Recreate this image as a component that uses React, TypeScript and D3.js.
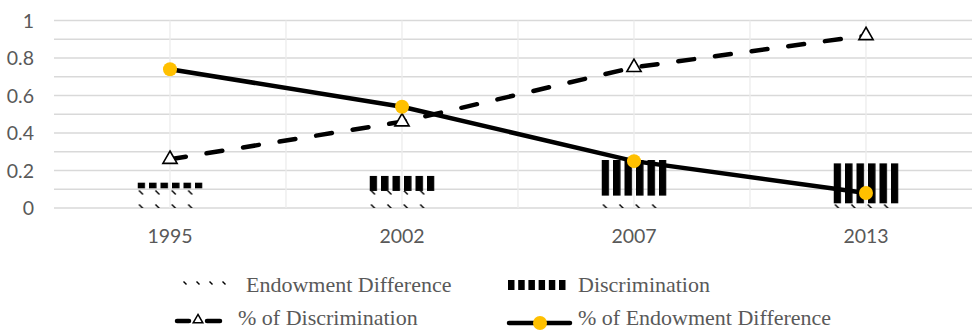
import React from "react";
import * as d3 from "d3";

// Survey years on the category axis
const years = ["1995", "2002", "2007", "2013"];
// Stacked bar components
const endowment = [0.105, 0.091, 0.066, 0.025];
const discrimination = [0.03, 0.08, 0.19, 0.213];
// Shares plotted as lines
const pctDiscrimination = [0.26, 0.46, 0.75, 0.92];
const pctEndowment = [0.74, 0.54, 0.25, 0.08];
// Axis ticks
const yTicks = [0, 0.2, 0.4, 0.6, 0.8, 1];
const yGrid = d3.range(0, 1.0001, 0.1);

const W = 972;
const H = 333;
const GREY = "#595959";
const AXIS_FONT = "Lato, 'Open Sans', sans-serif";

export default function App() {
  const x = d3.scaleBand<string>().domain(years).range([54, 982]).padding(0);
  const y = d3.scaleLinear().domain([0, 1]).range([208, 20.5]);
  const cx = (d: string) => (x(d) as number) + x.bandwidth() / 2;
  const barW = 65;

  const rows = years.map((yr, i) => ({
    year: yr,
    endowment: endowment[i],
    discrimination: discrimination[i],
  }));
  const stacked = d3.stack<any>().keys(["endowment", "discrimination"])(rows);

  const line = d3
    .line<number>()
    .x((_, i) => cx(years[i]))
    .y((v) => y(v));

  const tri = d3.symbol(d3.symbolTriangle, 88)();
  const triSmall = d3.symbol(d3.symbolTriangle, 40)();

  return (
    <svg
      width={W}
      height={H}
      style={{ position: "absolute", left: 0, top: 0, background: "#fff" }}
    >
      <defs>
        {years.map((yr) => {
          const left = cx(yr) - barW / 2;
          return (
            <React.Fragment key={yr}>
              <pattern
                id={`stripes-${yr}`}
                patternUnits="userSpaceOnUse"
                x={left}
                y={0}
                width={11.5}
                height={10}
              >
                <rect x={0} y={0} width={7.5} height={10} fill="#000" />
              </pattern>
              <pattern
                id={`dots-${yr}`}
                patternUnits="userSpaceOnUse"
                x={left + 1}
                y={190}
                width={16.4}
                height={14}
              >
                <line x1={0.5} y1={0.5} x2={4.5} y2={4.5} stroke="#000" strokeWidth={1.4} />
              </pattern>
            </React.Fragment>
          );
        })}
        <pattern id="stripes-legend" patternUnits="userSpaceOnUse" x={508} y={0} width={10.2} height={10}>
          <rect x={0} y={0} width={6.5} height={10} fill="#000" />
        </pattern>
        <pattern id="dots-legend" patternUnits="userSpaceOnUse" x={183} y={281} width={13} height={14}>
          <line x1={0.5} y1={0.5} x2={3.5} y2={3.5} stroke="#000" strokeWidth={1.4} />
        </pattern>
      </defs>

      {/* horizontal gridlines */}
      {yGrid.map((v) => (
        <line
          key={v.toFixed(1)}
          x1={54}
          x2={W}
          y1={y(v)}
          y2={y(v)}
          stroke="#d9d9d9"
          strokeWidth={1.5}
        />
      ))}
      {/* vertical gridlines at category centres and boundaries */}
      {years.map((yr) => (
        <line key={"c" + yr} x1={cx(yr)} x2={cx(yr)} y1={y(1)} y2={y(0)} stroke="#ececec" strokeWidth={1.3} />
      ))}
      {years.slice(1).map((yr) => (
        <line key={"b" + yr} x1={x(yr) as number} x2={x(yr) as number} y1={y(1)} y2={y(0)} stroke="#ececec" strokeWidth={1.3} />
      ))}

      {/* y axis labels */}
      {yTicks.map((v) => (
        <text
          key={v}
          x={34}
          y={y(v)}
          dy="0.36em"
          textAnchor="end"
          fontFamily={AXIS_FONT}
          fontSize={19.5}
          fill={GREY}
        >
          {String(v)}
        </text>
      ))}

      {/* x axis labels */}
      {years.map((yr) => (
        <text
          key={yr}
          x={cx(yr)}
          y={243}
          textAnchor="middle"
          fontFamily={AXIS_FONT}
          fontSize={19.5}
          fill={GREY}
        >
          {yr}
        </text>
      ))}

      {/* stacked bars */}
      {stacked.map((series) =>
        series.map((d, i) => (
          <rect
            key={series.key + i}
            x={cx(years[i]) - barW / 2}
            y={y(d[1])}
            width={barW}
            height={y(d[0]) - y(d[1])}
            fill={
              series.key === "endowment"
                ? `url(#dots-${years[i]})`
                : `url(#stripes-${years[i]})`
            }
          />
        ))
      )}

      {/* share lines */}
      <path
        d={line(pctDiscrimination) as string}
        fill="none"
        stroke="#000"
        strokeWidth={4.5}
        strokeDasharray="16 21"
        strokeLinecap="round"
      />
      <path
        d={line(pctEndowment) as string}
        fill="none"
        stroke="#000"
        strokeWidth={4.5}
        strokeLinecap="round"
      />
      {pctDiscrimination.map((v, i) => (
        <path
          key={"t" + i}
          d={tri as string}
          transform={`translate(${cx(years[i])},${y(v)})`}
          fill="#fff"
          stroke="#000"
          strokeWidth={1.6}
        />
      ))}
      {pctEndowment.map((v, i) => (
        <circle key={"c" + i} cx={cx(years[i])} cy={y(v)} r={7} fill="#FFC000" />
      ))}

      {/* legend */}
      <g fontFamily="'Liberation Serif', 'Times New Roman', serif" fontSize={22} fill={GREY}>
        <rect x={183} y={281} width={52} height={7} fill="url(#dots-legend)" />
        <text x={246} y={291.5}>Endowment Difference</text>

        <rect x={508} y={280} width={60} height={10} fill="url(#stripes-legend)" />
        <text x={578} y={291.5}>Discrimination</text>

        <line x1={177} x2={189} y1={321} y2={321} stroke="#000" strokeWidth={4.5} strokeLinecap="round" />
        <line x1={207} x2={220} y1={321} y2={321} stroke="#000" strokeWidth={4.5} strokeLinecap="round" />
        <path d={triSmall as string} transform="translate(198,320)" fill="#fff" stroke="#000" strokeWidth={1.5} />
        <text x={238} y={324.5}>% of Discrimination</text>

        <line x1={509} x2={570} y1={323} y2={323} stroke="#000" strokeWidth={4.5} strokeLinecap="round" />
        <circle cx={540} cy={323} r={7} fill="#FFC000" />
        <text x={578} y={324.5}>% of Endowment Difference</text>
      </g>
    </svg>
  );
}
